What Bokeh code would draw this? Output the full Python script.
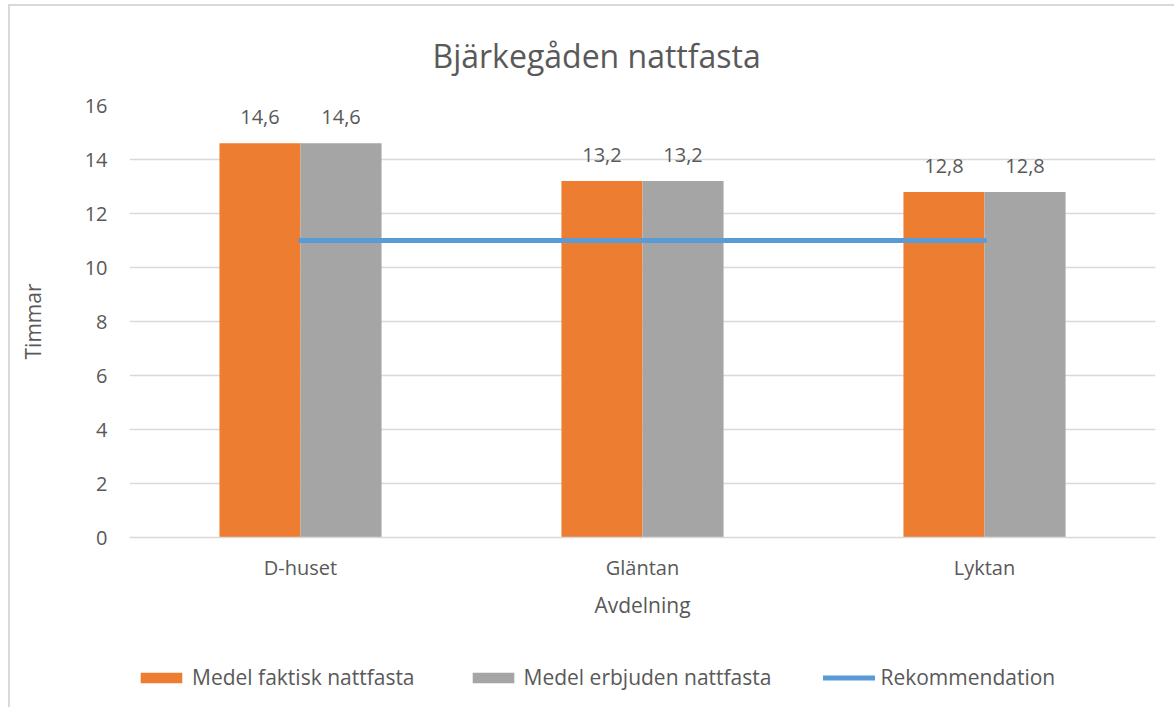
from bokeh.plotting import figure
from bokeh.layouts import column
from bokeh.models import FactorRange, Legend, LegendItem, ColumnDataSource, Title, FixedTicker
from bokeh.transform import dodge
from bokeh.core.properties import value
from bokeh.embed import file_html
from bokeh.resources import INLINE

categories = ["D-huset", "Gläntan", "Lyktan"]
faktisk = [14.6, 13.2, 12.8]
erbjuden = [14.6, 13.2, 12.8]
rekommendation = [11, 11, 11]
faktisk_labels = ["14,6", "13,2", "12,8"]
erbjuden_labels = ["14,6", "13,2", "12,8"]
y_ticks = [0, 2, 4, 6, 8, 10, 12, 14, 16]
series_names = ["Medel faktisk nattfasta", "Medel erbjuden nattfasta", "Rekommendation"]

FONT = "Open Sans"
TXT = "#595959"
ORANGE = "#ED7D31"
GRAY = "#A5A5A5"
BLUE = "#5B9BD5"
GRID = "#D9D9D9"

src = ColumnDataSource(dict(cat=categories, f=faktisk, e=erbjuden, r=rekommendation,
                            fl=faktisk_labels, el=erbjuden_labels))

W = 1164
p = figure(width=W, height=621, x_range=FactorRange(*categories, range_padding=0),
           y_range=(0, 16), output_backend="svg", toolbar_location=None,
           min_border_left=119, min_border_right=19, min_border_top=99, min_border_bottom=90)
p.outline_line_color = None
p.background_fill_color = "white"

bw = 0.237
p.vbar(x=dodge("cat", -bw / 2, range=p.x_range), top="f", width=bw, source=src,
       fill_color=ORANGE, line_color=None)
p.vbar(x=dodge("cat", bw / 2, range=p.x_range), top="e", width=bw, source=src,
       fill_color=GRAY, line_color=None)
p.line(x="cat", y="r", source=src, line_color=BLUE, line_width=5, line_cap="round")

p.text(x=dodge("cat", -bw / 2, range=p.x_range), y="f", text="fl", source=src,
       text_font=value(FONT), text_font_size="20px", text_color=TXT,
       text_align="center", text_baseline="alphabetic", y_offset=-26)
p.text(x=dodge("cat", bw / 2, range=p.x_range), y="e", text="el", source=src,
       text_font=value(FONT), text_font_size="20px", text_color=TXT,
       text_align="center", text_baseline="alphabetic", y_offset=-26)

p.yaxis.ticker = FixedTicker(ticks=y_ticks)
p.xgrid.grid_line_color = None
p.ygrid.grid_line_color = GRID
p.ygrid.grid_line_width = 1.5

for ax in (p.xaxis[0], p.yaxis[0]):
    ax.axis_line_color = None
    ax.major_tick_line_color = None
    ax.minor_tick_line_color = None
    ax.major_tick_out = 0
    ax.major_tick_in = 0
    ax.major_label_text_font = FONT
    ax.major_label_text_color = TXT
    ax.major_label_text_font_size = "20px"
    ax.axis_label_text_font = FONT
    ax.axis_label_text_color = TXT
    ax.axis_label_text_font_size = "21px"
    ax.axis_label_text_font_style = "normal"

p.xaxis.axis_line_color = GRID
p.xaxis.axis_line_width = 1.5
p.yaxis.axis_label = "Timmar"
p.xaxis.axis_label = "Avdelning"
p.yaxis.major_label_standoff = 22
p.yaxis.axis_label_standoff = 35
p.xaxis.major_label_standoff = 16
p.xaxis.axis_label_standoff = 7

p.title = Title(text="Bjärkegåden nattfasta", align="left", vertical_align="top",
                text_font=FONT, text_font_size="32px", text_font_style="normal",
                text_color=TXT, offset=303, standoff=54)

# legend row (separate canvas so it is not clipped by the plot frame)
lf = figure(width=W, height=80, x_range=(0, 20), y_range=(0, 20), output_backend="svg",
            toolbar_location=None, x_axis_location=None, y_axis_location=None,
            min_border=0, min_border_left=0, min_border_right=0, min_border_top=0,
            min_border_bottom=0)
lf.grid.visible = False
lf.outline_line_color = None
g1 = lf.vbar(x=faktisk, top=faktisk, width=0.5, fill_color=ORANGE, line_color=None, visible=False)
g2 = lf.vbar(x=erbjuden, top=erbjuden, width=0.5, fill_color=GRAY, line_color=None, visible=False)
g3 = lf.line(x=[0, 1, 2], y=rekommendation, line_color=BLUE, line_width=5, line_cap="round",
             visible=False)

legend = Legend(items=[LegendItem(label=series_names[0], renderers=[g1]),
                       LegendItem(label=series_names[1], renderers=[g2]),
                       LegendItem(label=series_names[2], renderers=[g3])],
                orientation="horizontal", location=(6, 16), glyph_width=52, glyph_height=13,
                label_standoff=5, spacing=52, padding=0, margin=0,
                label_text_font=FONT, label_text_font_size="21px", label_text_color=TXT,
                background_fill_alpha=0, border_line_color=None)
lf.add_layout(legend, "center")

layout = column(p, lf, spacing=0, margin=(4, 0, 0, 8))
layout.styles = {"border-top": "2px solid #D9D9D9", "border-left": "2px solid #D9D9D9"}

open("out.html", "w").write(file_html(layout, INLINE))
